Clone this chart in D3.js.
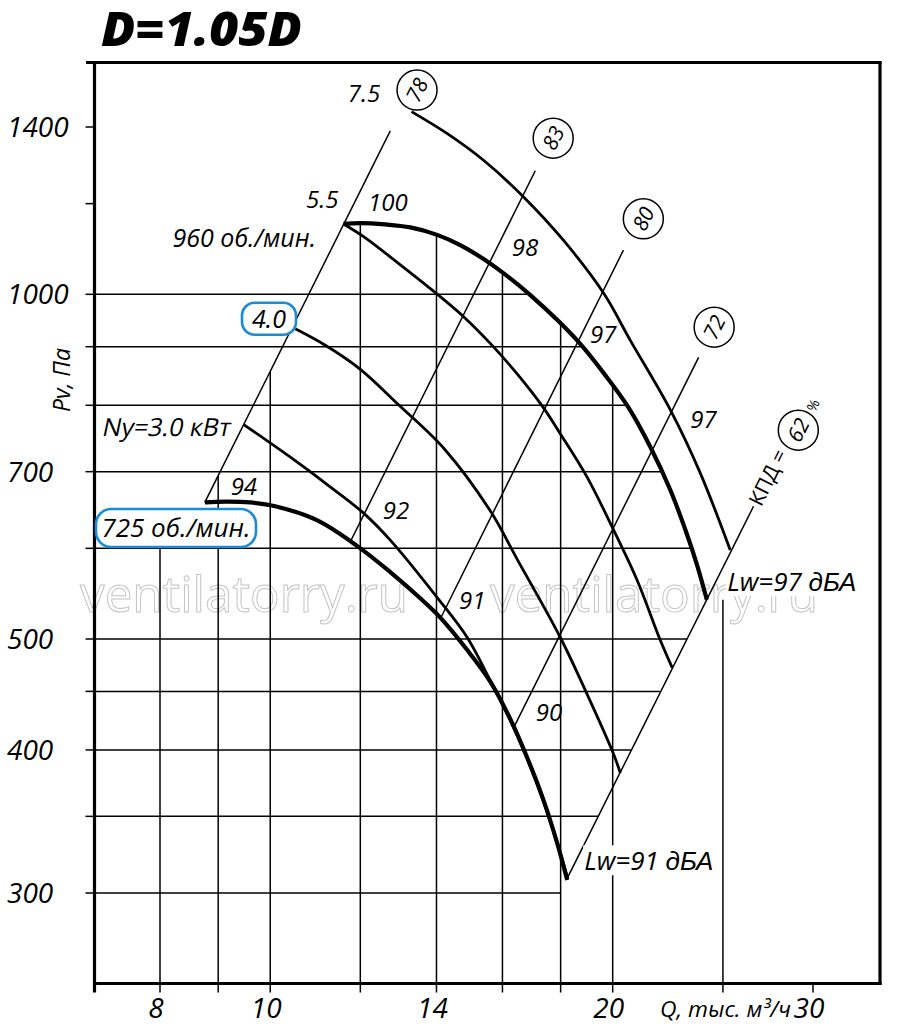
<!DOCTYPE html>
<html><head><meta charset="utf-8">
<script src="https://cdn.jsdelivr.net/npm/d3@7/dist/d3.min.js"></script>
<style>
body{margin:0;background:#fff;}
svg{display:block;}
text{font-family:"Open Sans",sans-serif;font-style:italic;fill:#000;}
.cy{font-family:"Liberation Sans",sans-serif;}
</style></head><body>
<svg id="c" width="900" height="1031"></svg>
<script>
// ---------------- data ----------------
const title = "D=1.05D";
const qTicks = [8, 9, 10, 12, 14, 16, 18, 20, 25, 30];
const qTickLabels = [8, 10, 14, 20, 30];
const qGrid = [8, 9, 10, 12, 14, 16, 18, 20, 25];
const pTicks = [1400, 1200, 1000, 900, 800, 700, 600, 500, 450, 400, 350, 300];
const pTickLabels = [1400, 1000, 700, 500, 400, 300];
const pGrid = [1000, 900, 800, 700, 600, 500, 450, 400, 350, 300];

// fan characteristics (Q, thousand m3/h ; Pv, Pa)
const rpm960Q = [11.60, 12.00, 12.62, 13.28, 14.02, 14.69, 15.39, 16.02, 16.92, 17.91, 18.73, 19.70, 20.64, 21.58, 22.47, 23.26, 23.74, 24.20];
const rpm960P = [1152, 1154, 1151, 1144, 1127, 1104, 1074, 1044, 999, 948, 905, 850, 797, 736, 675, 616, 579, 541];
const rpm725Q = [8.76, 9.13, 9.60, 10.10, 10.99, 11.92, 12.75, 13.54, 14.11, 14.90, 15.61, 16.25, 16.82, 17.38, 17.87, 18.24];
const rpm725P = [658, 659, 658, 653, 635, 603, 572, 543, 522, 489, 459, 426, 394, 362, 332, 308];

// motor power curves
const pow75Q = [13.31, 14.30, 15.39, 16.69, 18.10, 19.64, 20.72, 22.47, 23.88, 25.37];
const pow75P = [1444, 1382, 1310, 1217, 1115, 1002, 912, 793, 698, 598];
const pow55Q = [11.60, 12.08, 12.92, 13.82, 14.79, 15.61, 16.47, 17.37, 17.98, 18.98, 20.03, 21.01, 22.02, 22.56];
const pow55P = [1152, 1123, 1067, 1012, 956, 906, 853, 797, 756, 693, 623, 563, 499, 472];
const pow40Q = [10.52, 11.17, 12.00, 12.98, 14.22, 15.61, 16.50, 17.98, 18.98, 20.03, 20.31];
const pow40P = [933, 903, 860, 800, 733, 647, 586, 502, 448, 397, 382];
const pow30Q = [9.47, 10.41, 11.29, 12.08, 12.75, 14.01, 14.89, 15.61, 16.25, 16.82, 17.38, 17.87, 18.26];
const pow30P = [770, 721, 679, 644, 610, 544, 502, 460, 425, 393, 361, 332, 309];

// efficiency (КПД) rays
const effValues = ["78", "83", "80", "72", "62"];
const effLowQ = [8.76, 11.76, 14.10, 16.36, 18.24];
const effLowP = [658, 608, 520, 418, 309];
const effHighQ = [12.75, 17.10, 20.44, 23.80, 26.60];
const effHighP = [1389, 1282, 1093, 881, 653];
const effLabelQ = [13.46, 17.73, 21.28, 24.56, 29.12];
const effLabelP = [1508, 1369, 1164, 936, 761];

// noise levels Lw, dB
const noiseText = ["94", "92", "91", "90", "100", "98", "97", "97"];
const noiseQ = [9.48, 12.90, 15.05, 17.58, 12.69, 16.75, 19.62, 24.03];
const noiseP = [680, 647, 540, 431, 1202, 1100, 923, 778];

// power labels
const powText = ["7.5", "5.5"];
const powQ = [12.09, 11.11];
const powP = [1499, 1211];

// ---------------- drawing ----------------
const svg = d3.select("#c");
const L = 94.5, R = 880, T = 62.5, B = 983.5;
const x = d3.scaleLog().domain([8, 30]).range([160, 813]);
const y = d3.scaleLog().domain([300, 1400]).range([893, 127]);
const zip = (qs, ps) => qs.map((q, i) => [x(q), y(ps[i])]);
const blue = "#1a8bd6";

// watermark
[80, 490].forEach(wx => {
  svg.append("text").attr("x", wx).attr("y", 612)
    .attr("textLength", 328).attr("lengthAdjust", "spacingAndGlyphs")
    .style("font-style", "normal").style("font-weight", 400)
    .style("font-size", "50px").style("fill", "none")
    .style("stroke", "#c4c4c4").style("stroke-width", 1)
    .text("ventilatorry.ru");
});

// clip paths
const defs = svg.append("defs");
const p960 = zip(rpm960Q, rpm960P);
const c1 = rpm725P[0] / (rpm725Q[0] ** 2);
const qD1at600 = Math.sqrt(600 / c1);
const vClip = [[L - 5, y(600)], [x(qD1at600), y(600)], [x(rpm725Q[0]), y(rpm725P[0])],
  ...p960, [R, p960[p960.length - 1][1]], [R, B + 10], [L - 5, B + 10]];
const n725 = rpm725Q.length - 1;
const c5 = rpm725P[n725] / (rpm725Q[n725] ** 2);
const qD5bottom = Math.sqrt(y.invert(B) / c5);
const hClip = [[L - 1, p960[0][1]], ...p960, [x(rpm725Q[n725]), y(rpm725P[n725])],
  [x(qD5bottom), B], [L - 1, B]];
defs.append("clipPath").attr("id", "vclip").append("polygon").attr("points", vClip.map(p => p.join(",")).join(" "));
defs.append("clipPath").attr("id", "hclip").append("polygon").attr("points", hClip.map(p => p.join(",")).join(" "));

// grid
svg.append("g").attr("clip-path", "url(#hclip)").selectAll("line").data(pGrid).join("line")
  .attr("x1", L).attr("x2", R).attr("y1", d => y(d)).attr("y2", d => y(d))
  .attr("stroke", "#000").attr("stroke-width", 1.5);
svg.append("g").attr("clip-path", "url(#vclip)").selectAll("line").data(qGrid).join("line")
  .attr("x1", d => x(d)).attr("x2", d => x(d)).attr("y1", T).attr("y2", B)
  .attr("stroke", "#000").attr("stroke-width", 1.5);

// ticks
svg.append("g").selectAll("line").data(pTicks).join("line")
  .attr("x1", L - 9).attr("x2", L).attr("y1", d => y(d)).attr("y2", d => y(d))
  .attr("stroke", "#000").attr("stroke-width", 1.5);
svg.append("g").selectAll("line").data(qTicks).join("line")
  .attr("x1", d => x(d)).attr("x2", d => x(d)).attr("y1", B).attr("y2", B + 9)
  .attr("stroke", "#000").attr("stroke-width", 1.5);

// frame
const frame = svg.append("g").attr("stroke", "#000").attr("stroke-width", 3.2);
frame.append("line").attr("x1", L).attr("x2", L).attr("y1", T - 1.5).attr("y2", B + 9);
frame.append("line").attr("x1", 86).attr("x2", R + 1.6).attr("y1", T).attr("y2", T);
frame.append("line").attr("x1", R).attr("x2", R).attr("y1", T).attr("y2", B + 1.5);
frame.append("line").attr("x1", L).attr("x2", R + 1.6).attr("y1", B).attr("y2", B);

// tick labels
svg.append("g").selectAll("text").data(pTickLabels).join("text")
  .attr("x", 7).attr("y", d => y(d) + 10).style("font-size", "28px").text(d => d);
svg.append("g").selectAll("text").data(qTickLabels).join("text")
  .attr("x", d => x(d) - 4).attr("y", 1018).attr("text-anchor", "middle")
  .style("font-size", "28px").text(d => d);

// axis titles
svg.append("text").attr("transform", "translate(70,380) rotate(-90)")
  .attr("text-anchor", "middle").style("font-size", "23px").text("Pv, Па");
svg.append("text").attr("x", 660).attr("y", 1017).attr("textLength", 131)
  .attr("lengthAdjust", "spacingAndGlyphs").style("font-size", "22px").text("Q, тыс. м³/ч");

// title
svg.append("text").attr("x", 101).attr("y", 46).attr("textLength", 201)
  .attr("lengthAdjust", "spacingAndGlyphs").style("font-size", "47px")
  .style("font-weight", 800).text(title);

// efficiency rays
const ang = Math.atan2(y(effHighP[4]) - y(effLowP[4]), x(effHighQ[4]) - x(effLowQ[4])) * 180 / Math.PI;
svg.append("g").selectAll("line").data(effValues).join("line")
  .attr("x1", (d, i) => x(effLowQ[i])).attr("y1", (d, i) => y(effLowP[i]))
  .attr("x2", (d, i) => x(effHighQ[i])).attr("y2", (d, i) => y(effHighP[i]))
  .attr("stroke", "#000").attr("stroke-width", 1.5);
const circ = svg.append("g").selectAll("g").data(effValues).join("g")
  .attr("transform", (d, i) => `translate(${x(effLabelQ[i])},${y(effLabelP[i])})`);
circ.append("circle").attr("r", 20).attr("fill", "#fff").attr("stroke", "#000").attr("stroke-width", 1.5);
circ.append("text").attr("transform", `rotate(${ang})`).attr("text-anchor", "middle")
  .attr("dy", "0.36em").style("font-size", "21px").text(d => d);

// КПД label
const kx = x(effHighQ[4]) + 1, ky = y(effHighP[4]) - 2;
svg.append("text").attr("transform", `translate(${kx},${ky}) rotate(${ang})`)
  .attr("dy", "0.35em").style("font-size", "21px").style("font-style", "normal").text("КПД =");
svg.append("text").attr("transform", `translate(${x(30.01)},${y(800)}) rotate(${ang})`)
  .attr("text-anchor", "middle").attr("dy", "0.35em").style("font-size", "14px")
  .style("font-style", "normal").text("%");

// curves
const lineGen = d3.line().curve(d3.curveCatmullRom.alpha(0.5));
const curves = [
  [pow75Q, pow75P, 2.8], [pow55Q, pow55P, 2.8], [pow40Q, pow40P, 2.8], [pow30Q, pow30P, 2.8],
  [rpm960Q, rpm960P, 4.2], [rpm725Q, rpm725P, 4.2]
];
svg.append("g").selectAll("path").data(curves).join("path")
  .attr("d", d => lineGen(zip(d[0], d[1])))
  .attr("fill", "none").attr("stroke", "#000").attr("stroke-width", d => d[2])
  .attr("stroke-linecap", "butt");

// noise labels
svg.append("g").selectAll("text").data(noiseText).join("text")
  .attr("x", (d, i) => x(noiseQ[i])).attr("y", (d, i) => y(noiseP[i]))
  .attr("dy", "0.36em").attr("text-anchor", "middle").style("font-size", "24px").text(d => d);

// power labels
svg.append("g").selectAll("text").data(powText).join("text")
  .attr("x", (d, i) => x(powQ[i])).attr("y", (d, i) => y(powP[i]))
  .attr("dy", "0.36em").attr("text-anchor", "middle").style("font-size", "24px").text(d => d);
svg.append("text").attr("transform", `translate(${x(9.24)},${y(766)}) skewX(-12)`)
  .attr("dy", "0.36em").attr("text-anchor", "end")
  .style("font-size", "25px").style("font-style", "normal").text("Ny=3.0 кВт");
svg.append("text").attr("x", x(10.97)).attr("y", y(1120)).attr("dy", "0.36em")
  .attr("text-anchor", "end").style("font-size", "25px").text("960 об./мин.");

// boxed labels
function boxed(q, p, w, h, txt, fs) {
  const g = svg.append("g").attr("transform", `translate(${x(q)},${y(p)})`);
  g.append("rect").attr("x", -w / 2).attr("y", -h / 2).attr("width", w).attr("height", h)
    .attr("rx", h * 0.4).attr("fill", "#fff").attr("stroke", blue).attr("stroke-width", 2.6);
  g.append("text").attr("text-anchor", "middle").attr("dy", "0.36em")
    .style("font-size", fs + "px").text(txt);
}
boxed(9.975, 952, 54, 32, "4.0", 25);
boxed(8.263, 625, 160, 38, "725 об./мин.", 26);

// Lw labels with white background
function lw(q, p, num) {
  const g = svg.append("g");
  const t = g.append("text").attr("x", x(q)).attr("y", y(p)).attr("dy", "0.36em")
    .style("font-size", "26px");
  t.append("tspan").text("Lw=" + num + " ");
  t.append("tspan").attr("class", "cy").text("дБА");
  const bb = t.node().getBBox();
  g.insert("rect", "text").attr("x", bb.x - 1).attr("y", bb.y + 3).attr("width", bb.width + 2)
    .attr("height", bb.height - 6).attr("fill", "#fff");
}
lw(25.22, 561, "97");
lw(18.88, 320, "91");
</script>
</body></html>
